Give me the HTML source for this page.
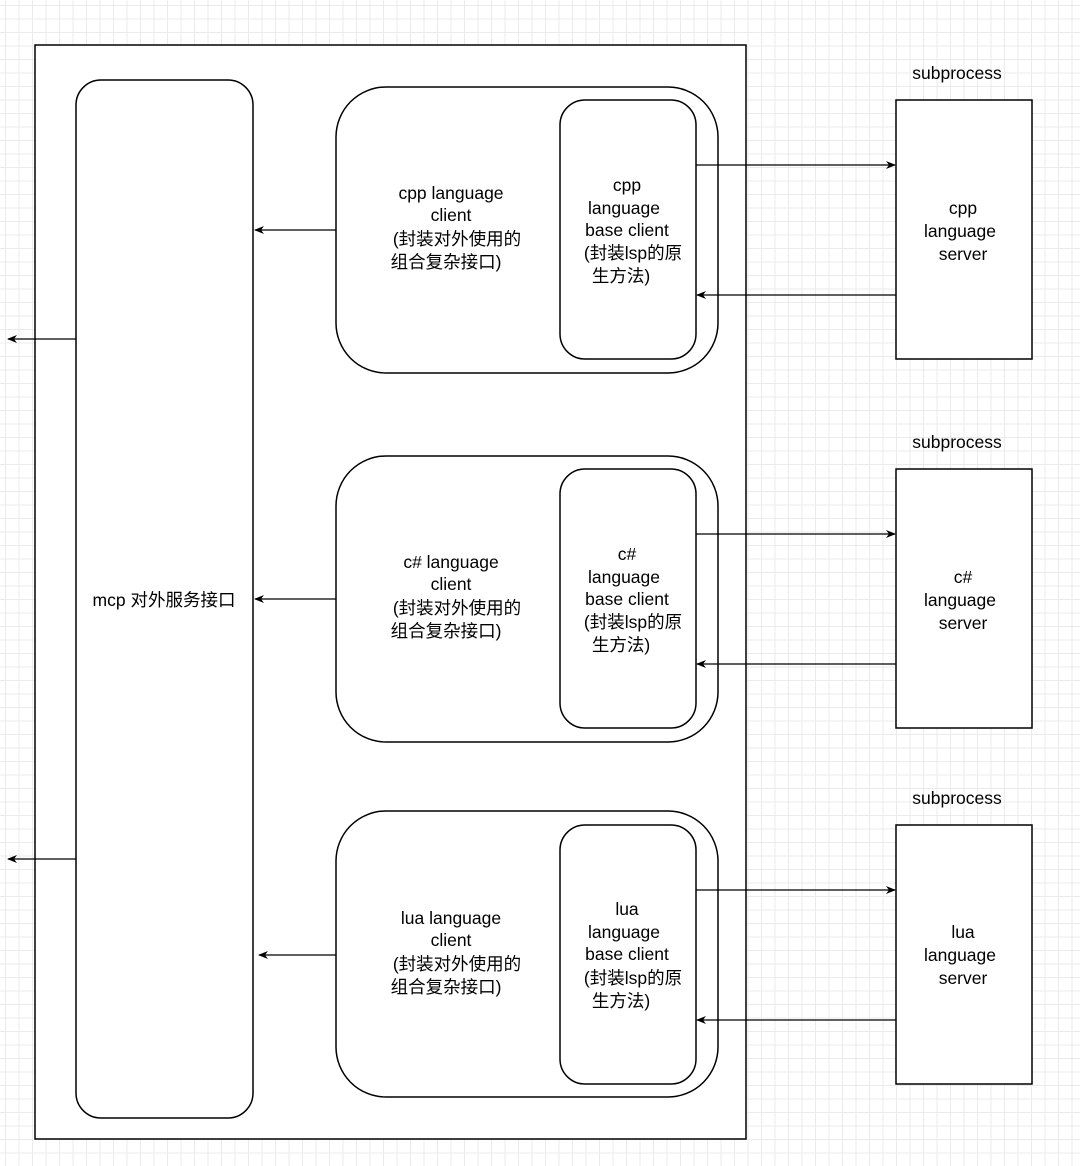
<!DOCTYPE html>
<html><head><meta charset="utf-8"><style>
body{margin:0;width:1080px;height:1166px;overflow:hidden;background:#fff;
background-image:linear-gradient(#ebebeb 1px,transparent 1px),linear-gradient(90deg,#ebebeb 1px,transparent 1px);
background-size:13.5px 13.5px;background-position:5px 5px;}
svg{position:absolute;left:0;top:0}
text{font-family:"Liberation Sans","Noto Sans CJK SC",sans-serif;font-size:17.5px;fill:#000;text-anchor:middle}
</style></head><body>
<svg width="1080" height="1166" viewBox="0 0 1080 1166">
<defs><marker id="a" markerWidth="10" markerHeight="10" refX="9" refY="5" orient="auto" markerUnits="userSpaceOnUse"><path d="M0,1 L10,5 L0,9 L3,5z" fill="#000"/></marker></defs>
<g fill="#fff" stroke="#000" stroke-width="1.5">
<rect x="35" y="45" width="711" height="1094"/>
<rect x="76" y="80" width="177" height="1038" rx="25"/>
<rect x="336" y="87" width="382" height="286" rx="50"/>
<rect x="560" y="100" width="136" height="259" rx="25"/>
<rect x="896" y="100" width="136" height="259"/>
<rect x="336" y="456" width="382" height="286" rx="50"/>
<rect x="560" y="469" width="136" height="259" rx="25"/>
<rect x="896" y="469" width="136" height="259"/>
<rect x="336" y="811" width="382" height="286" rx="50"/>
<rect x="560" y="825" width="136" height="259" rx="25"/>
<rect x="896" y="825" width="136" height="259"/>
</g>
<g stroke="#000" stroke-width="1.3" fill="none" marker-end="url(#a)">
<path d="M696 165H895"/><path d="M896 295H697"/>
<path d="M696 534H895"/><path d="M896 664H697"/>
<path d="M696 890H895"/><path d="M896 1020H697"/>
<path d="M336 230H255"/><path d="M336 599H255"/><path d="M336 955H259"/>
<path d="M76 339H8"/><path d="M76 859H8"/>
</g>
<text x="957" y="79">subprocess</text>
<text x="957" y="448">subprocess</text>
<text x="957" y="804">subprocess</text>
<text x="164" y="606">mcp 对外服务接口</text>
<g>
<text x="451" y="199">cpp language</text><text x="451" y="221">client</text>
<text x="457" y="245">(封装对外使用的</text><text x="446" y="268">组合复杂接口)</text>
<text x="627" y="191">cpp</text><text x="624" y="214">language</text><text x="627" y="236">base client</text>
<text x="633" y="259">(封装lsp的原</text><text x="621" y="282">生方法)</text>
<text x="963" y="214">cpp</text><text x="960" y="237">language</text><text x="963" y="260">server</text>
</g>
<g>
<text x="451" y="568">c# language</text><text x="451" y="590">client</text>
<text x="457" y="614">(封装对外使用的</text><text x="446" y="637">组合复杂接口)</text>
<text x="627" y="560">c#</text><text x="624" y="583">language</text><text x="627" y="605">base client</text>
<text x="633" y="628">(封装lsp的原</text><text x="621" y="651">生方法)</text>
<text x="963" y="583">c#</text><text x="960" y="606">language</text><text x="963" y="629">server</text>
</g>
<g>
<text x="451" y="924">lua language</text><text x="451" y="946">client</text>
<text x="457" y="970">(封装对外使用的</text><text x="446" y="993">组合复杂接口)</text>
<text x="627" y="915">lua</text><text x="624" y="938">language</text><text x="627" y="960">base client</text>
<text x="633" y="984">(封装lsp的原</text><text x="621" y="1007">生方法)</text>
<text x="963" y="938">lua</text><text x="960" y="961">language</text><text x="963" y="984">server</text>
</g>
</svg>
</body></html>
